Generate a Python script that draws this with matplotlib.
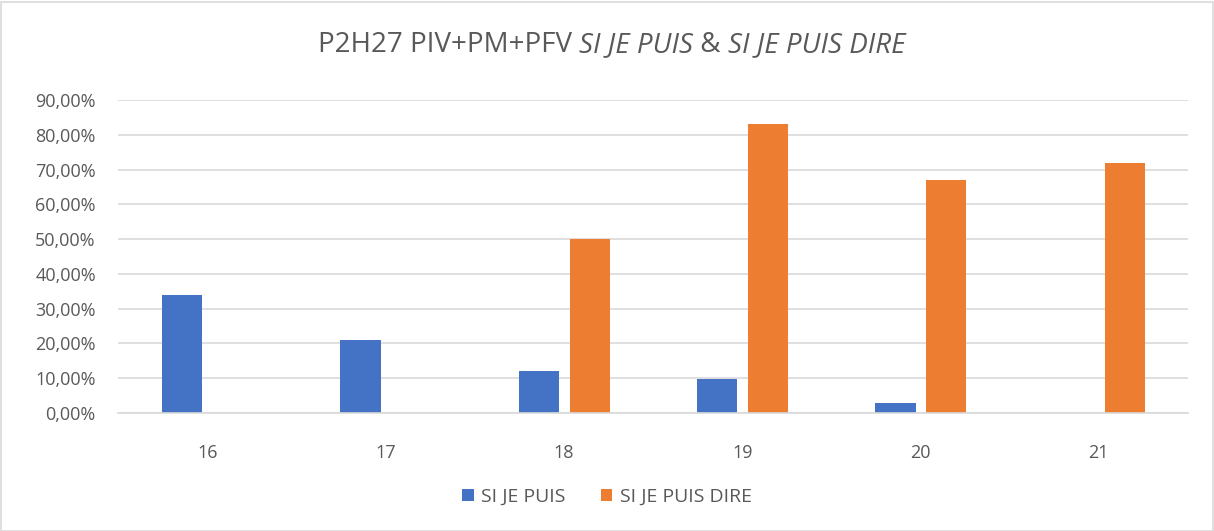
import matplotlib
matplotlib.use("Agg")
import matplotlib.pyplot as plt
import numpy as np
from matplotlib.ticker import FuncFormatter, MultipleLocator
from matplotlib.patches import Rectangle

categories = ["16", "17", "18", "19", "20", "21"]
si_je_puis = [0.34, 0.21, 0.12, 0.098, 0.028, 0.0]
si_je_puis_dire = [0.0, 0.0, 0.50, 0.83, 0.67, 0.72]

blue = "#4472c4"
orange = "#ed7d31"
grey_text = "#595959"
grid_col = "#d9d9d9"

plt.rcParams["font.family"] = ["Open Sans", "DejaVu Sans"]

fig = plt.figure(figsize=(12.14, 5.31), dpi=100)
ax = fig.add_axes([118 / 1214, 1 - 413 / 531, 1070 / 1214, 313 / 531])

x = np.arange(len(categories))
w = 0.225
ax.bar(x - 0.14, si_je_puis, w, color=blue, label="SI JE PUIS")
ax.bar(x + 0.145, si_je_puis_dire, w, color=orange, label="SI JE PUIS DIRE")

ax.set_xlim(-0.5, len(categories) - 0.5)
ax.set_ylim(0, 0.9)
ax.yaxis.set_major_locator(MultipleLocator(0.1))
ax.yaxis.set_major_formatter(FuncFormatter(lambda v, p: f"{v * 100:.2f}".replace(".", ",") + "%"))
ax.set_xticks(x)
ax.set_xticklabels(categories)
ax.grid(axis="y", color=grid_col, lw=1.2)
ax.set_axisbelow(True)
for s in ["top", "right", "left"]:
    ax.spines[s].set_visible(False)
ax.spines["bottom"].set_color(grid_col)
ax.spines["bottom"].set_linewidth(1.2)
ax.tick_params(axis="both", length=0, labelsize=13, colors=grey_text)
ax.tick_params(axis="x", pad=22)
ax.tick_params(axis="y", pad=16)

# title with italic parts
pieces = [("P2H27 PIV+PM+PFV ", "normal"), ("SI JE PUIS", "italic"), (" & ", "normal"),
          ("SI JE PUIS DIRE", "italic")]
fig.canvas.draw()
r = fig.canvas.get_renderer()
texts = []
for s, st in pieces:
    t = fig.text(0, 1 - 45 / 531, s, fontsize=20, style=st, color=grey_text, va="center")
    texts.append(t)
widths = [t.get_window_extent(r).width for t in texts]
xpos = 611.5 - sum(widths) / 2
for t, wd in zip(texts, widths):
    t.set_x(xpos / 1214)
    xpos += wd

leg = fig.legend(loc="center", bbox_to_anchor=(0.5, 1 - 497 / 531), ncol=2, frameon=False,
                 fontsize=14, handlelength=0.6, handleheight=0.6, columnspacing=1.8,
                 handletextpad=0.4)
for t in leg.get_texts():
    t.set_color(grey_text)

fig.patches.append(Rectangle((0.5 / 1214, 0.5 / 531), 1 - 2 / 1214, 1 - 2 / 531,
                             transform=fig.transFigure, fill=False, ec=grid_col, lw=1.2))

fig.savefig("out.png", dpi=100)
